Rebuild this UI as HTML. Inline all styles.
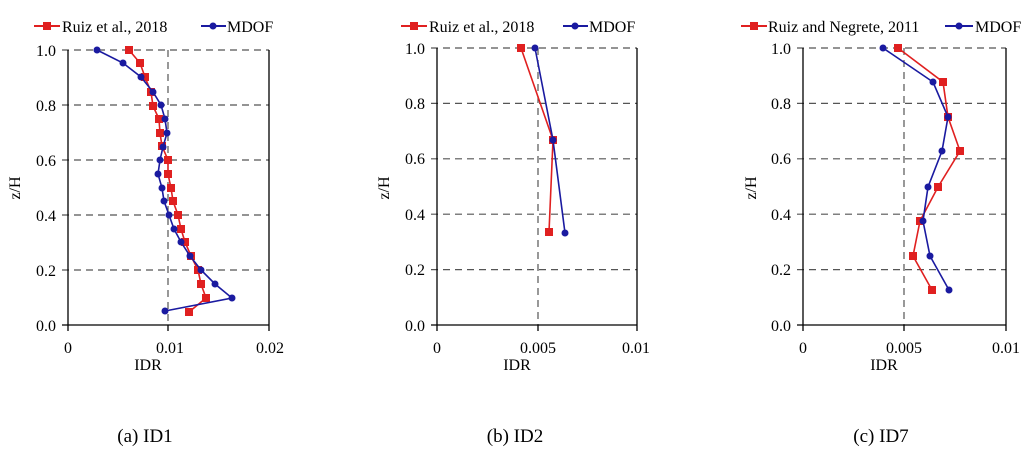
<!DOCTYPE html>
<html><head><meta charset="utf-8"><style>
body{margin:0;background:#fff}
svg{display:block;font-family:"Liberation Serif",serif}
</style></head><body>
<svg width="1034" height="452" viewBox="0 0 1034 452">
<g fill="none" stroke="#555" stroke-width="1.2" stroke-dasharray="7,5">
<!-- panel1 grid -->
<path d="M62 50H269M62 105H269M62 160H269M62 215H269M62 270H269M168 50V325"/>
<!-- panel2 -->
<path d="M431 48H637M431 103.4H637M431 158.8H637M431 214.2H637M431 269.6H637M538 48V325"/>
<!-- panel3 -->
<path d="M797 48H1006M797 103.4H1006M797 158.8H1006M797 214.2H1006M797 269.6H1006M904 48V325"/>
</g>
<g fill="none" stroke="#000" stroke-width="1.3">
<path d="M68 50V325H269V50M62 325H68M68 325V331M168 325V331M269 325V331"/>
<path d="M437 48V325H637V48M431 325H437M437 325V331M538 325V331M637 325V331"/>
<path d="M803 48V325H1006V48M797 325H803M803 325V331M904 325V331M1006 325V331"/>
</g>
<g font-size="16" fill="#000" text-anchor="end">
<text x="56" y="56">1.0</text><text x="56" y="111">0.8</text><text x="56" y="166">0.6</text><text x="56" y="221">0.4</text><text x="56" y="276">0.2</text><text x="56" y="331">0.0</text>
<text x="425" y="54">1.0</text><text x="425" y="109">0.8</text><text x="425" y="164">0.6</text><text x="425" y="220">0.4</text><text x="425" y="275">0.2</text><text x="425" y="331">0.0</text>
<text x="791" y="54">1.0</text><text x="791" y="109">0.8</text><text x="791" y="164">0.6</text><text x="791" y="220">0.4</text><text x="791" y="275">0.2</text><text x="791" y="331">0.0</text>
</g>
<g font-size="16" fill="#000" text-anchor="middle">
<text x="68" y="353">0</text><text x="170" y="353">0.01</text><text x="270" y="353">0.02</text><text x="148" y="370">IDR</text>
<text x="437" y="353">0</text><text x="538" y="353">0.005</text><text x="636" y="353">0.01</text><text x="517" y="370">IDR</text>
<text x="803" y="353">0</text><text x="904" y="353">0.005</text><text x="1006" y="353">0.01</text><text x="884" y="370">IDR</text>
<text transform="translate(20,188) rotate(-90)">z/H</text>
<text transform="translate(389,188) rotate(-90)">z/H</text>
<text transform="translate(756,188) rotate(-90)">z/H</text>
<text x="145" y="442" font-size="19">(a) ID1</text>
<text x="515" y="442" font-size="19">(b) ID2</text>
<text x="881" y="442" font-size="19">(c) ID7</text>
</g>
<!-- legends -->
<g font-size="16" fill="#000">
<path d="M34 26H60" stroke="#e02020" stroke-width="2"/><rect x="43" y="22" width="8" height="8" fill="#e02020"/>
<text x="62" y="32">Ruiz  et al., 2018</text>
<path d="M201 26H226" stroke="#1a1aa0" stroke-width="2"/><circle cx="213" cy="26" r="3.5" fill="#1a1aa0"/>
<text x="227" y="32">MDOF</text>
<path d="M401 26H427" stroke="#e02020" stroke-width="2"/><rect x="410" y="22" width="8" height="8" fill="#e02020"/>
<text x="429" y="32">Ruiz et al., 2018</text>
<path d="M563 26H588" stroke="#1a1aa0" stroke-width="2"/><circle cx="575" cy="26" r="3.5" fill="#1a1aa0"/>
<text x="589" y="32">MDOF</text>
<path d="M741 26H767" stroke="#e02020" stroke-width="2"/><rect x="750" y="22" width="8" height="8" fill="#e02020"/>
<text x="768" y="32">Ruiz and Negrete, 2011</text>
<path d="M945 26H973" stroke="#1a1aa0" stroke-width="2"/><circle cx="959" cy="26" r="3.5" fill="#1a1aa0"/>
<text x="975" y="32">MDOF</text>
</g>
<!-- series panel1 -->
<g>
<polyline fill="none" stroke="#e02020" stroke-width="1.6" points="129,50 140,63 145,77 151,92 153,106 159,119 160,133 162,146 168,160 168,174 171,188 173,201 178,215 181,229 185,242 191,256 198,270 201,284 206,298 189,312"/>
<g fill="#e02020">
<rect x="125" y="46" width="8" height="8"/><rect x="136" y="59" width="8" height="8"/><rect x="141" y="73" width="8" height="8"/><rect x="147" y="88" width="8" height="8"/><rect x="149" y="102" width="8" height="8"/><rect x="155" y="115" width="8" height="8"/><rect x="156" y="129" width="8" height="8"/><rect x="158" y="142" width="8" height="8"/><rect x="164" y="156" width="8" height="8"/><rect x="164" y="170" width="8" height="8"/><rect x="167" y="184" width="8" height="8"/><rect x="169" y="197" width="8" height="8"/><rect x="174" y="211" width="8" height="8"/><rect x="177" y="225" width="8" height="8"/><rect x="181" y="238" width="8" height="8"/><rect x="187" y="252" width="8" height="8"/><rect x="194" y="266" width="8" height="8"/><rect x="197" y="280" width="8" height="8"/><rect x="202" y="294" width="8" height="8"/><rect x="185" y="308" width="8" height="8"/>
</g>
<polyline fill="none" stroke="#1a1aa0" stroke-width="1.6" points="97,50 123,63 141,77 153,92 161,105 165,119 167,133 163,147 160,160 158,174 162,188 164,201 169,215 174,229 181,242 190,256 201,270 215,284 232,298 165,311"/>
<g fill="#1a1aa0">
<circle cx="97" cy="50" r="3.5"/><circle cx="123" cy="63" r="3.5"/><circle cx="141" cy="77" r="3.5"/><circle cx="153" cy="92" r="3.5"/><circle cx="161" cy="105" r="3.5"/><circle cx="165" cy="119" r="3.5"/><circle cx="167" cy="133" r="3.5"/><circle cx="163" cy="147" r="3.5"/><circle cx="160" cy="160" r="3.5"/><circle cx="158" cy="174" r="3.5"/><circle cx="162" cy="188" r="3.5"/><circle cx="164" cy="201" r="3.5"/><circle cx="169" cy="215" r="3.5"/><circle cx="174" cy="229" r="3.5"/><circle cx="181" cy="242" r="3.5"/><circle cx="190" cy="256" r="3.5"/><circle cx="201" cy="270" r="3.5"/><circle cx="215" cy="284" r="3.5"/><circle cx="232" cy="298" r="3.5"/><circle cx="165" cy="311" r="3.5"/>
</g>
</g>
<!-- panel2 -->
<polyline fill="none" stroke="#e02020" stroke-width="1.6" points="521,48 553,140 549,232"/>
<g fill="#e02020"><rect x="517" y="44" width="8" height="8"/><rect x="549" y="136" width="8" height="8"/><rect x="545" y="228" width="8" height="8"/></g>
<polyline fill="none" stroke="#1a1aa0" stroke-width="1.6" points="535,48 553,140 565,233"/>
<g fill="#1a1aa0"><circle cx="535" cy="48" r="3.5"/><circle cx="553" cy="140" r="3.5"/><circle cx="565" cy="233" r="3.5"/></g>
<!-- panel3 -->
<polyline fill="none" stroke="#e02020" stroke-width="1.6" points="898,48 943,82 948,117 960,151 938,187 920,221 913,256 932,290"/>
<g fill="#e02020"><rect x="894" y="44" width="8" height="8"/><rect x="939" y="78" width="8" height="8"/><rect x="944" y="113" width="8" height="8"/><rect x="956" y="147" width="8" height="8"/><rect x="934" y="183" width="8" height="8"/><rect x="916" y="217" width="8" height="8"/><rect x="909" y="252" width="8" height="8"/><rect x="928" y="286" width="8" height="8"/></g>
<polyline fill="none" stroke="#1a1aa0" stroke-width="1.6" points="883,48 933,82 948,117 942,151 928,187 923,221 930,256 949,290"/>
<g fill="#1a1aa0"><circle cx="883" cy="48" r="3.5"/><circle cx="933" cy="82" r="3.5"/><circle cx="948" cy="117" r="3.5"/><circle cx="942" cy="151" r="3.5"/><circle cx="928" cy="187" r="3.5"/><circle cx="923" cy="221" r="3.5"/><circle cx="930" cy="256" r="3.5"/><circle cx="949" cy="290" r="3.5"/></g>
</svg>
</body></html>
